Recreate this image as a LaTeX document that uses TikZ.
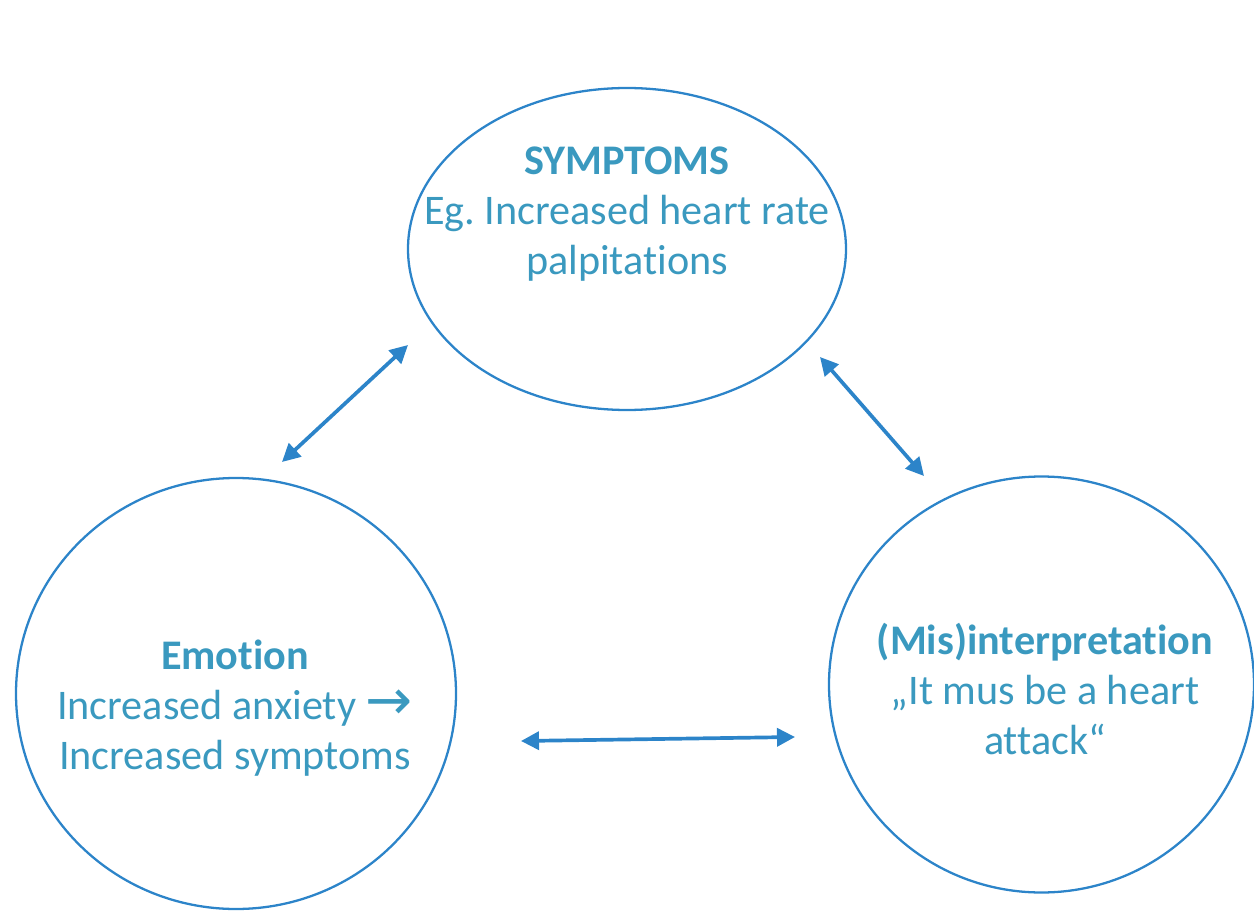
\documentclass[tikz,border=0pt]{standalone}
\usepackage{fontspec}
\setmainfont[Ligatures=NoCommon]{Carlito}
\newfontfamily\arrowfont{DejaVu Sans}
\usepackage{xcolor}
\usepackage{tikz}
\usetikzlibrary{arrows.meta,shapes.geometric}
\definecolor{cTxt}{HTML}{3A99BF}
\definecolor{cLine}{HTML}{2C84C9}
\frenchspacing

\begin{document}
\begin{tikzpicture}[x=1cm,y=1cm]
  \tikzset{
    bubble/.style={ellipse, draw=cLine, line width=1.3pt, inner sep=0pt},
    txt/.style={align=center, text=cTxt, font=\fontsize{24}{28.6}\selectfont},
    link/.style={draw=cLine, line width=2.1pt,
      {Triangle[length=0.36cm, width=0.36cm]}-{Triangle[length=0.36cm, width=0.36cm]}},
  }
  \useasboundingbox (0,0) rectangle (25.08,18.2);
  % the three bubbles
  \node[bubble, minimum width=8.76cm, minimum height=6.44cm] (sym) at (12.54,13.22) {};
  \node[bubble, minimum width=8.80cm, minimum height=8.62cm] (emo) at (4.72,4.33) {};
  \node[bubble, minimum width=8.50cm, minimum height=8.32cm] (mis) at (20.83,4.51) {};
  % their texts
  \node[txt] (symTxt) at (12.54,13.92) {\textbf{SYMPTOMS}\\Eg. Increased heart rate\\palpitations};
  \node[txt] (emoTxt) at (4.70,4.04) {\textbf{Emotion}\\Increased anxiety {\arrowfont\fontsize{32}{28.6}\selectfont →} \\Increased symptoms};
  \node[txt] (misTxt) at (20.90,4.42) {\textbf{(Mis)interpretation}\\„It mus be a heart \\attack“};
  % ends of the double arrows
  \coordinate (emoTop) at (5.64,8.96);
  \coordinate (symLeft) at (8.16,11.30);
  \coordinate (symRight) at (16.40,11.06);
  \coordinate (misTop) at (18.48,8.68);
  \coordinate (emoRight) at (10.42,3.38);
  \coordinate (misLeft) at (15.90,3.46);
  \draw[link] (emoTop) -- (symLeft);
  \draw[link] (symRight) -- (misTop);
  \draw[link] (emoRight) -- (misLeft);
\end{tikzpicture}
\end{document}
